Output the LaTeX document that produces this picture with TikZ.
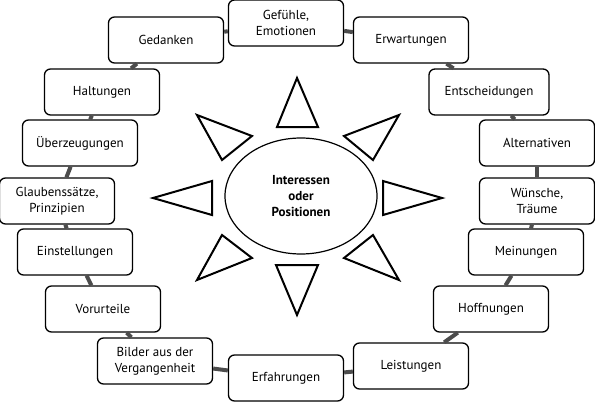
\documentclass[tikz,border=0pt]{standalone}
\usepackage{fontspec}
\setmainfont{PT Sans}
\usepackage{tikz}
\usetikzlibrary{shapes.geometric}

\begin{document}
\begin{tikzpicture}[
  x=1pt, y=-1pt,
  box/.style={draw,line width=1.3pt,rounded corners=6pt,fill=white,align=center,
    minimum width=115pt,minimum height=46pt,inner sep=2pt,
    font=\fontsize{13}{16}\selectfont},
  link/.style={line width=4pt,draw=black!70},
  ray/.style={draw,line width=2pt,line join=miter}
]
  \useasboundingbox (0,0) rectangle (595,402);
  % centre
  \node[ellipse,draw,line width=1.2pt,minimum width=152pt,minimum height=116pt,
    align=center,font=\fontsize{13}{16}\selectfont\bfseries] (focus) at (301,196)
    {Interessen\\oder\\Positionen};
  % rays
  \draw[ray] (297,78) -- (318,127) -- (277,127) -- cycle;
  \draw[ray] (297,315) -- (318,265) -- (276,265) -- cycle;
  \draw[ray] (153,198) -- (212,181) -- (212,215) -- cycle;
  \draw[ray] (442,198) -- (383,181) -- (383,215) -- cycle;
  \draw[ray] (197,115) -- (252,136) -- (222,160) -- cycle;
  \draw[ray] (399,115) -- (344,136) -- (373,160) -- cycle;
  \draw[ray] (197,280) -- (252,258) -- (222,235) -- cycle;
  \draw[ray] (399,280) -- (344,258) -- (373,235) -- cycle;
  % ring of boxes
  \node[box] (feel) at (286,23) {Gefühle,\\Emotionen};
  \node[box] (expect) at (411,40) {Erwartungen};
  \node[box,minimum width=120pt] (decide) at (489,92) {Entscheidungen};
  \node[box] (options) at (537,143) {Alternativen};
  \node[box] (wish) at (537,201) {Wünsche,\\Träume};
  \node[box] (opinion) at (526,252) {Meinungen};
  \node[box] (hope) at (491,309) {Hoffnungen};
  \node[box] (achieve) at (411,366) {Leistungen};
  \node[box] (experience) at (286,378) {Erfahrungen};
  \node[box] (past) at (155,361) {Bilder aus der\\Vergangenheit};
  \node[box] (prejudice) at (103,309) {Vorurteile};
  \node[box] (attitude) at (75,252) {Einstellungen};
  \node[box] (belief) at (57,201) {Glaubenssätze,\\Prinzipien};
  \node[box] (conviction) at (80,143) {Überzeugungen};
  \node[box] (stance) at (102,92) {Haltungen};
  \node[box] (thought) at (166,40) {Gedanken};
  % links
  \draw[link] (feel) -- (expect);
  \draw[link] (expect) -- (decide);
  \draw[link] (decide) -- (options);
  \draw[link] (options) -- (wish);
  \draw[link] (wish) -- (opinion);
  \draw[link] (opinion) -- (hope);
  \draw[link] (hope) -- (achieve);
  \draw[link] (achieve) -- (experience);
  \draw[link] (experience) -- (past);
  \draw[link] (past) -- (prejudice);
  \draw[link] (prejudice) -- (attitude);
  \draw[link] (attitude) -- (belief);
  \draw[link] (belief) -- (conviction);
  \draw[link] (conviction) -- (stance);
  \draw[link] (stance) -- (thought);
  \draw[link] (thought) -- (feel);
\end{tikzpicture}
\end{document}
